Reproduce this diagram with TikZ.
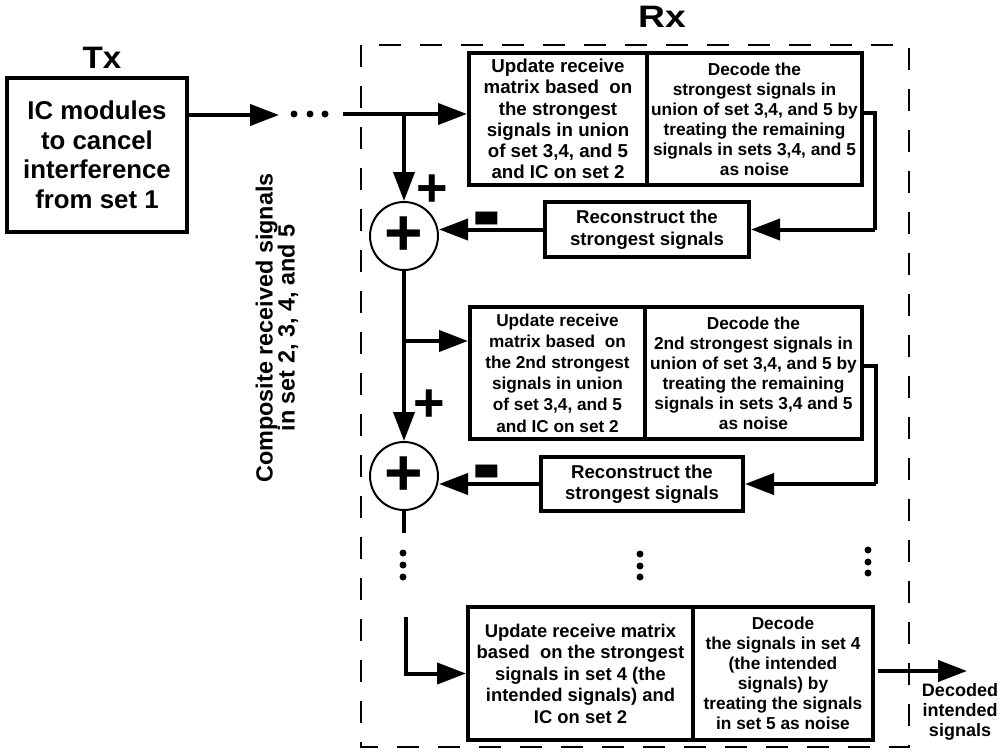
\documentclass[tikz,border=0pt]{standalone}
\usepackage{fontspec}
\setmainfont{Liberation Sans}
\usetikzlibrary{arrows.meta}
\begin{document}
\begin{tikzpicture}[x=1pt,y=-1pt,
  box/.style={draw, line width=4pt, inner sep=0pt, align=center},
  ltext/.style={font=\bfseries\fontsize{17.2}{21.2}\selectfont},
  rtext/.style={font=\bfseries\fontsize{17.3}{20}\selectfont},
  ctext/.style={font=\bfseries\fontsize{18.6}{21.5}\selectfont},
  arr/.style={line width=4pt, -{Triangle[length=29pt,width=21pt]}},
  plain/.style={line width=4pt},
  sumc/.style={draw, circle, line width=2pt, inner sep=0pt, minimum size=68pt, font=\bfseries\fontsize{66}{66}\selectfont},
  sign/.style={inner sep=0pt, font=\bfseries\fontsize{54}{54}\selectfont},
  dot/.style={fill=black, circle, inner sep=0pt, minimum size=7pt},
  title/.style={font=\bfseries\fontsize{31}{36}\selectfont}
]
\useasboundingbox (0,0) rectangle (1005,752);

% Rx dashed frame
\draw[line width=2.5pt, dash pattern=on 22pt off 19pt] (361,45) rectangle (909,747);

% titles
\node[title] (txlabel) at (102,58) {\scalebox{1.07}[1]{Tx}};
\node[title] (rxlabel) at (662,17) {\scalebox{1.2}[1]{Rx}};

% Tx box
\node[box, minimum width=180pt, minimum height=154pt, font=\bfseries\fontsize{25.8}{29.5}\selectfont] (tx) at (97,155)
  {IC modules\\ to cancel\\ interference\\ from set 1};

% rotated text
\node[rotate=90, align=center, font=\bfseries\fontsize{23.4}{22}\selectfont] (comp) at (277,328)
  {Composite received signals\\ in set 2, 3, 4, and 5};

% stage 1
\node[box, font=\bfseries\fontsize{18.7}{21.2}\selectfont, minimum width=178pt, minimum height=132pt] (b1l) at (558,119)
  {Update receive\\ matrix based\ \ on\\ the strongest\\ signals in union\\ of set 3,4, and 5\\ and IC on set 2};
\node[box, rtext, minimum width=215pt, minimum height=132pt] (b1r) at (754.5,119)
  {Decode the\\ strongest signals in\\ union of set 3,4, and 5 by\\ treating the remaining\\ signals in sets 3,4, and 5\\ as noise};
\node[box, ctext, minimum width=204pt, minimum height=55pt] (r1) at (647,229.5)
  {Reconstruct the\\ strongest signals};
\node[sumc] (c1) at (404,236) {\raisebox{-3pt}{+}};
\node[sign] (p1) at (432,191) {+};
\node[sign] (m1) at (487,229) {\scalebox{1.6}[2]{-}};

% stage 2
\node[box, ltext, minimum width=175pt, minimum height=132pt] (b2l) at (557.5,373)
  {Update receive\\ matrix based\ \ on\\ the 2nd strongest\\ signals in union\\ of set 3,4, and 5\\ and IC on set 2};
\node[box, rtext, minimum width=217pt, minimum height=132pt] (b2r) at (753.5,373)
  {Decode the\\ 2nd strongest signals in\\ union of set 3,4, and 5 by\\ treating the remaining\\ signals in sets 3,4 and 5\\ as noise};
\node[box, ctext, minimum width=202pt, minimum height=54pt] (r2) at (642,484)
  {Reconstruct the\\ strongest signals};
\node[sumc] (c2) at (404,476) {\raisebox{-3pt}{+}};
\node[sign] (p2) at (429,406) {+};
\node[sign] (m2) at (487,482) {\scalebox{1.6}[2]{-}};

% final stage
\node[box, font=\bfseries\fontsize{18.4}{21.5}\selectfont, minimum width=225pt, minimum height=133pt] (b3l) at (580.5,673.5)
  {Update receive matrix\\ based\ \ on the strongest\\ signals in set 4 (the\\ intended signals) and\\ IC on set 2};
\node[box, rtext, minimum width=180pt, minimum height=133pt] (b3r) at (783,673.5)
  {Decode\\ the signals in set 4\\ (the intended\\ signals) by\\ treating the signals\\ in set 5 as noise};
\node[align=center, font=\bfseries\fontsize{18}{20}\selectfont] (dec) at (960,712)
  {Decoded\\ intended\\ signals};

% dots
\node[dot] (d1) at (294,114) {};
\node[dot] (d2) at (310,114) {};
\node[dot] (d3) at (325,114) {};
\node[dot] (v1) at (403,553) {};
\node[dot] (v2) at (403,565) {};
\node[dot] (v3) at (403,577) {};
\node[dot] (w1) at (640,554) {};
\node[dot] (w2) at (640,566) {};
\node[dot] (w3) at (640,577) {};
\node[dot] (z1) at (868,550) {};
\node[dot] (z2) at (868,562) {};
\node[dot] (z3) at (868,573) {};

% coordinates
\coordinate (a1) at (279,115);
\coordinate (a2) at (343,114);
\coordinate (br1) at (404,114);
\coordinate (br2) at (404,341);
\coordinate (fb1) at (875,113);
\coordinate (fb2) at (876,366);
\coordinate (e1) at (404,533);
\coordinate (s3) at (406,617);
\coordinate (out) at (967,671);

% connectors
\draw[arr] (tx.east |- a1) -- (a1);
\draw[arr] (a2) -- (a2 -| b1l.west);
\draw[arr] (br1) -- (c1.north);
\draw[plain] (b1r.east |- fb1) -- (fb1) -- (fb1 |- r1.east);
\draw[arr] (fb1 |- r1.east) -- (r1.east);
\draw[arr] (r1.west) -- (r1.west -| c1.east);
\draw[arr] (c1.south) -- (c2.north);
\draw[arr] (br2) -- (br2 -| b2l.west);
\draw[plain] (b2r.east |- fb2) -- (fb2) -- (fb2 |- r2.east);
\draw[arr] (fb2 |- r2.east) -- (r2.east);
\draw[arr] (r2.west) -- (r2.west -| c2.east);
\draw[plain] (c2.south) -- (e1);
\draw[arr] (s3) |- (b3l.west);
\draw[arr] (b3r.east |- out) ++(3,0) -- (out);
\end{tikzpicture}
\end{document}
